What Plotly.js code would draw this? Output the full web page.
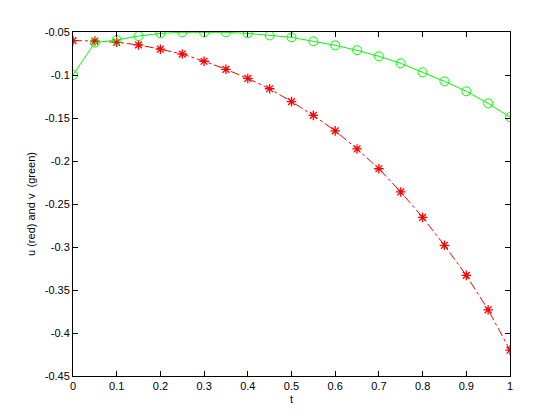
<!DOCTYPE html>
<html><head><meta charset="utf-8">
<script src="https://cdn.plot.ly/plotly-3.0.1.min.js"></script>
<style>body{margin:0;background:#fff}#c{width:560px;height:420px}</style>
</head><body><div id="c"></div>
<script>
const t = [0,0.05,0.1,0.15,0.2,0.25,0.3,0.35,0.4,0.45,0.5,0.55,0.6,0.65,0.7,0.75,0.8,0.85,0.9,0.95,1];
const u = [-0.06,-0.0605,-0.062,-0.065,-0.070,-0.0756,-0.084,-0.0934,-0.104,-0.116,-0.131,-0.147,-0.165,-0.186,-0.209,-0.236,-0.2655,-0.298,-0.333,-0.373,-0.42];
const v = [-0.1,-0.0624,-0.0593,-0.0547,-0.0516,-0.0504,-0.0504,-0.0504,-0.0516,-0.054,-0.0562,-0.0609,-0.0655,-0.0713,-0.0783,-0.0864,-0.0969,-0.1074,-0.119,-0.133,-0.149];
const xTickVals = [0,0.1,0.2,0.3,0.4,0.5,0.6,0.7,0.8,0.9,1];
const xTickText = ["0","0.1","0.2","0.3","0.4","0.5","0.6","0.7","0.8","0.9","1"];
const yTickVals = [-0.45,-0.4,-0.35,-0.3,-0.25,-0.2,-0.15,-0.1,-0.05];
const yTickText = ["-0.45","-0.4","-0.35","-0.3","-0.25","-0.2","-0.15","-0.1","-0.05"];

const font = {family:"Liberation Sans, Arial, sans-serif", size:11, color:"#000"};
const axBase = {showgrid:false, zeroline:false, showline:true, linecolor:"#000", linewidth:1, mirror:"ticks",
  ticks:"inside", ticklen:5, tickcolor:"#000", tickfont:font};

Plotly.newPlot("c", [
  {x:t, y:u, mode:"lines+markers", line:{color:"#ff0000", width:1, dash:"dashdot"},
   marker:{symbol:"asterisk-open", size:8, color:"#ff0000", line:{color:"#ff0000", width:1.3}}},
  {x:t, y:v, mode:"lines+markers", line:{color:"#00ff00", width:1},
   marker:{symbol:"circle-open", size:9, color:"#00ff00", line:{color:"#00ff00", width:1}}}
], {
  width:560, height:420, showlegend:false,
  paper_bgcolor:"#fff", plot_bgcolor:"#fff",
  margin:{l:73, r:50, t:32, b:44},
  font:font,
  xaxis:Object.assign({}, axBase, {range:[0,1], tickvals:xTickVals, ticktext:xTickText,
    title:{text:"t", font:font, standoff:4}}),
  yaxis:Object.assign({}, axBase, {range:[-0.45,-0.05], tickvals:yTickVals, ticktext:yTickText,
    title:{text:"u (red) and v  (green)", font:font, standoff:6}})
}, {staticPlot:true});
</script></body></html>
